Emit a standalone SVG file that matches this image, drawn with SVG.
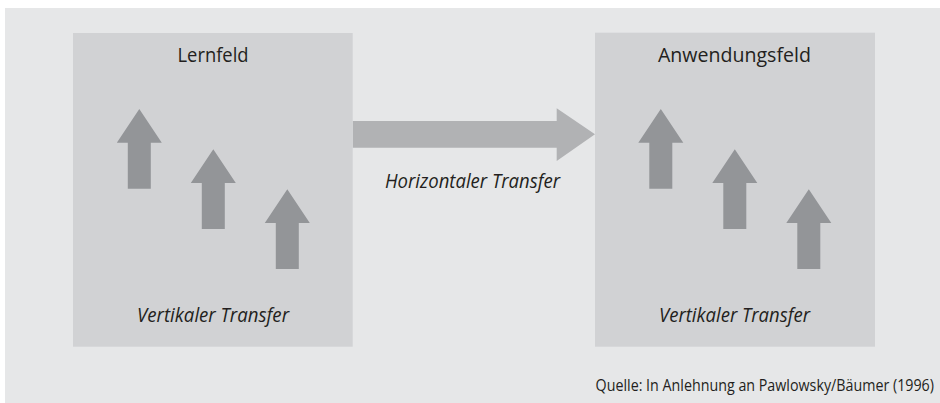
<svg xmlns="http://www.w3.org/2000/svg" xmlns:xlink="http://www.w3.org/1999/xlink" width="940" height="403" viewBox="0 0 940 403">
  <style>
    .panel { fill: #e6e7e8; }
    .field { fill: #d1d2d4; }
    .up { fill: #939598; }
    .flow { fill: #b1b2b4; }
    text { font-family: "Open Sans", "Noto Sans", "DejaVu Sans", sans-serif; fill: #231f20; font-size: 20px; }
    .title { text-anchor: middle; }
    .label { text-anchor: middle; font-style: italic; }
    .source { text-anchor: end; font-size: 17px; }
  </style>
  <defs>
    <!-- upward block arrow, tip at origin -->
    <path id="upArrow" class="up" d="M0,0 L22.5,33.7 L11.5,33.7 L11.5,79.7 L-11.5,79.7 L-11.5,33.7 L-22.5,33.7 Z"/>
  </defs>

  <!-- background panel -->
  <rect class="panel" x="5" y="8" width="935" height="395"/>

  <!-- connectors -->
  <g id="connectors">
    <path id="horizontal-transfer" class="flow" d="M352.7,121 L556.7,121 L556.7,108.3 L595,134.3 L556.7,161 L556.7,147.7 L352.7,147.7 Z"/>
    <text class="label" x="472.5" y="188.3" textLength="175" lengthAdjust="spacingAndGlyphs">Horizontaler Transfer</text>
  </g>

  <!-- learning field -->
  <g id="lernfeld">
    <rect class="field" x="73" y="33" width="279.7" height="313.7"/>
    <text class="title" x="213" y="62.3" textLength="71" lengthAdjust="spacingAndGlyphs">Lernfeld</text>
    <use xlink:href="#upArrow" x="139.3" y="109"/>
    <use xlink:href="#upArrow" x="213.3" y="149.3"/>
    <use xlink:href="#upArrow" x="287.3" y="189.3"/>
    <text class="label" x="213" y="321.7" textLength="152" lengthAdjust="spacingAndGlyphs">Vertikaler Transfer</text>
  </g>

  <!-- application field -->
  <g id="anwendungsfeld">
    <rect class="field" x="595" y="32.7" width="280" height="314"/>
    <text class="title" x="734.4" y="62.3" textLength="153" lengthAdjust="spacingAndGlyphs">Anwendungsfeld</text>
    <use xlink:href="#upArrow" x="660.8" y="109"/>
    <use xlink:href="#upArrow" x="734.8" y="149.3"/>
    <use xlink:href="#upArrow" x="808.8" y="189.3"/>
    <text class="label" x="734.5" y="321.7" textLength="151" lengthAdjust="spacingAndGlyphs">Vertikaler Transfer</text>
  </g>

  <!-- source note, condensed horizontally -->
  <g transform="translate(934 390.5) scale(0.84 1)">
    <text class="source" x="0" y="0">Quelle: In Anlehnung an Pawlowsky/Bäumer (1996)</text>
  </g>
</svg>
